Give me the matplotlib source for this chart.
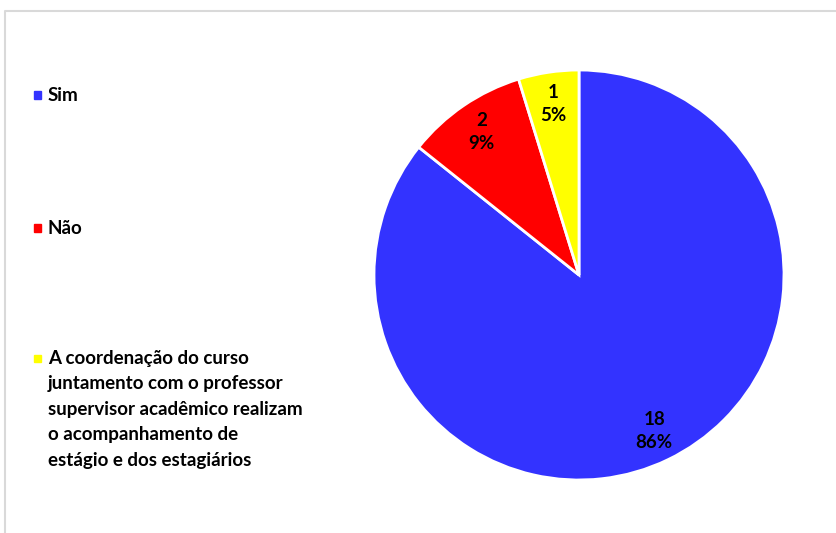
import matplotlib
matplotlib.use("Agg")
import matplotlib.pyplot as plt
from matplotlib.lines import Line2D
from matplotlib.patches import Rectangle

plt.rcParams['font.family'] = ['Lato', 'DejaVu Sans']

categories = ["Sim", "Não",
              "A coordenação do curso\njuntamento com o professor\nsupervisor acadêmico realizam\no acompanhamento de\nestágio e dos estagiários"]
counts = [18, 2, 1]
pct_labels = ["86%", "9%", "5%"]
colors = ["#3333FF", "#FF0000", "#FFFF00"]

W, H = 837, 533
fig = plt.figure(figsize=(W / 100, H / 100), dpi=100)

# pie axes: centre ~(579, 275) px, radius ~205 px
cx, cy, r = 579, 275, 205
ax = fig.add_axes([(cx - r) / W, (H - cy - r) / H, 2 * r / W, 2 * r / H])
slice_labels = [f"{c}\n{p}" for c, p in zip(counts, pct_labels)]
wedges, texts = ax.pie(counts, labels=slice_labels, colors=colors, startangle=90,
                       counterclock=False, labeldistance=0.845,
                       wedgeprops=dict(edgecolor="white", linewidth=2),
                       textprops=dict(fontsize=13.5, fontweight="bold", color="black",
                                      linespacing=1.4))
for t in texts:
    t.set_ha("center")
    t.set_va("center")
ax.set_xlim(-1, 1)
ax.set_ylim(-1, 1)
ax.set_aspect("equal")
ax.axis("off")

# legend drawn by hand so markers sit on the first text line
legend_y = [95, 228, 358]
for lab, col, y in zip(categories, colors, legend_y):
    fig.add_artist(Rectangle((34 / W, (H - y - 3.5) / H), 7 / W, 7 / H,
                             transform=fig.transFigure, color=col))
    fig.text(48 / W, (H - y + 8) / H, lab, ha="left", va="top", fontsize=13.5,
             fontweight="bold", linespacing=1.6,
             transform=fig.transFigure)

# light frame along top and left
fig.add_artist(Line2D([5 / W, 5 / W, 1], [0, (H - 11) / H, (H - 11) / H],
                      transform=fig.transFigure, color="#d9d9d9", linewidth=1.5))

fig.savefig("out.png", dpi=100)
plt.close(fig)
